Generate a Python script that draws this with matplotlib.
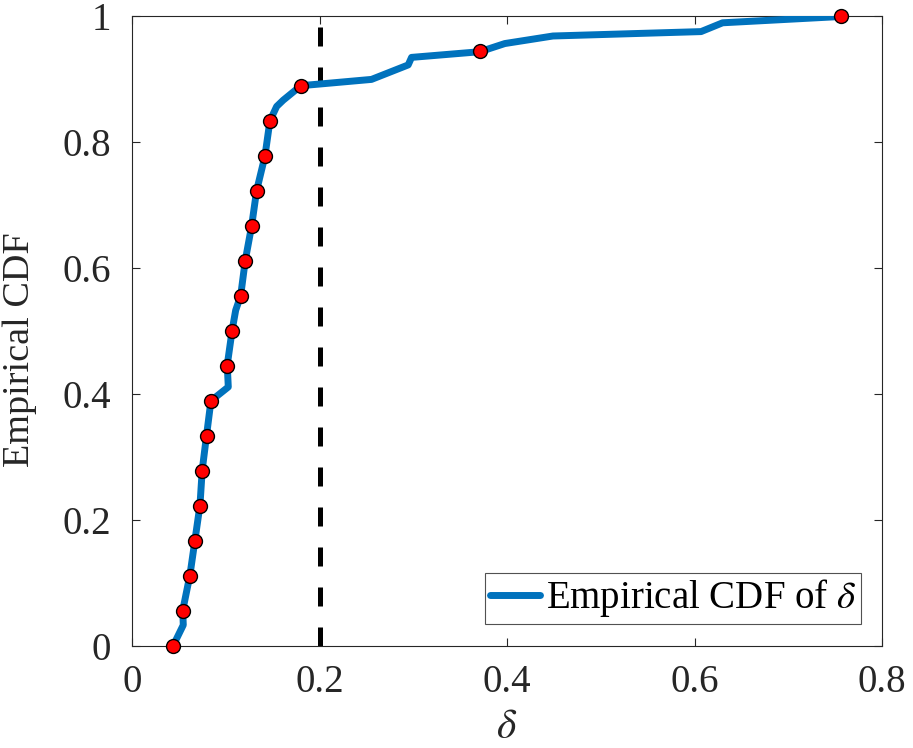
import matplotlib
matplotlib.use("Agg")
import matplotlib.pyplot as plt

# Line vertices of the empirical CDF
cdf_x = [0.044, 0.0547, 0.0541, 0.0618, 0.0672, 0.0725, 0.0749, 0.0796, 0.0842,
         0.1027, 0.1016, 0.1069, 0.1106, 0.1159, 0.1208, 0.1276, 0.1329, 0.1418,
         0.1471, 0.1543, 0.1613, 0.1802, 0.2555, 0.2946, 0.2982, 0.371, 0.3977,
         0.449, 0.607, 0.630, 0.756]
cdf_y = [0.0, 0.0326, 0.0556, 0.112, 0.168, 0.223, 0.279, 0.335, 0.389,
         0.411, 0.446, 0.502, 0.533, 0.556, 0.612, 0.667, 0.723, 0.778,
         0.834, 0.857, 0.867, 0.890, 0.900, 0.923, 0.935, 0.944, 0.957,
         0.969, 0.976, 0.990, 1.0]

# Marked points
mark_x = [0.044, 0.0541, 0.0618, 0.0672, 0.0725, 0.0749, 0.0796, 0.0842, 0.1016,
          0.1069, 0.1159, 0.1208, 0.1276, 0.1329, 0.1418, 0.1471, 0.1802, 0.371, 0.756]
mark_y = [0.0, 0.0556, 0.1111, 0.1667, 0.2222, 0.2778, 0.3333, 0.3889, 0.4444,
          0.5, 0.5556, 0.6111, 0.6667, 0.7222, 0.7778, 0.8333, 0.8889, 0.9444, 1.0]

threshold = 0.2
x_ticks = [0, 0.2, 0.4, 0.6, 0.8]
x_ticklabels = ["0", "0.2", "0.4", "0.6", "0.8"]
y_ticks = [0, 0.2, 0.4, 0.6, 0.8, 1.0]
y_ticklabels = ["0", "0.2", "0.4", "0.6", "0.8", "1"]

plt.rcParams['font.family'] = ['Liberation Serif', 'DejaVu Serif']
plt.rcParams['mathtext.fontset'] = 'stix'

W, H = 913, 748
fig = plt.figure(figsize=(W / 100, H / 100), dpi=100)
ax = fig.add_axes([132 / W, (H - 645.5) / H, 750 / W, 629 / H])

ax.plot(cdf_x, cdf_y, color='#0072BD', lw=5, solid_joinstyle='round',
        solid_capstyle='round', label=r'Empirical CDF of $\delta$', zorder=3)
ax.plot(mark_x, mark_y, ls='none', marker='o', ms=10, mfc='red', mec='black',
        mew=1.0, zorder=4, clip_on=False)
ax.plot([threshold, threshold], [0, 1], color='black', lw=3.6,
        linestyle=(0, (3.8, 4.2)), zorder=2)

ax.set_xlim(0, 0.8)
ax.set_ylim(0, 1)
ax.set_xticks(x_ticks)
ax.set_xticklabels(x_ticklabels)
ax.set_yticks(y_ticks)
ax.set_yticklabels(y_ticklabels)

ax.tick_params(direction='in', length=5.5, width=0.8, top=True, right=True,
               labelsize=28, colors='#262626')
ax.tick_params(axis='x', pad=13)
ax.tick_params(axis='y', pad=15)
for s in ax.spines.values():
    s.set_linewidth(0.8)
    s.set_color('#262626')

ax.set_xlabel(r'$\delta$', fontsize=30, color='#262626')
ax.xaxis.set_label_coords(0.5, -0.1)
ax.set_ylabel('Empirical CDF', fontsize=27.5, color='#262626')
ax.yaxis.set_label_coords(-0.127, 0.47)

leg = ax.legend(loc='lower right', fontsize=28, frameon=True, fancybox=False,
                handlelength=1.29, handletextpad=0.15, borderpad=0.12,
                borderaxespad=0.55, edgecolor='#262626')
leg.get_frame().set_linewidth(0.8)

fig.savefig('out.png', dpi=100)
